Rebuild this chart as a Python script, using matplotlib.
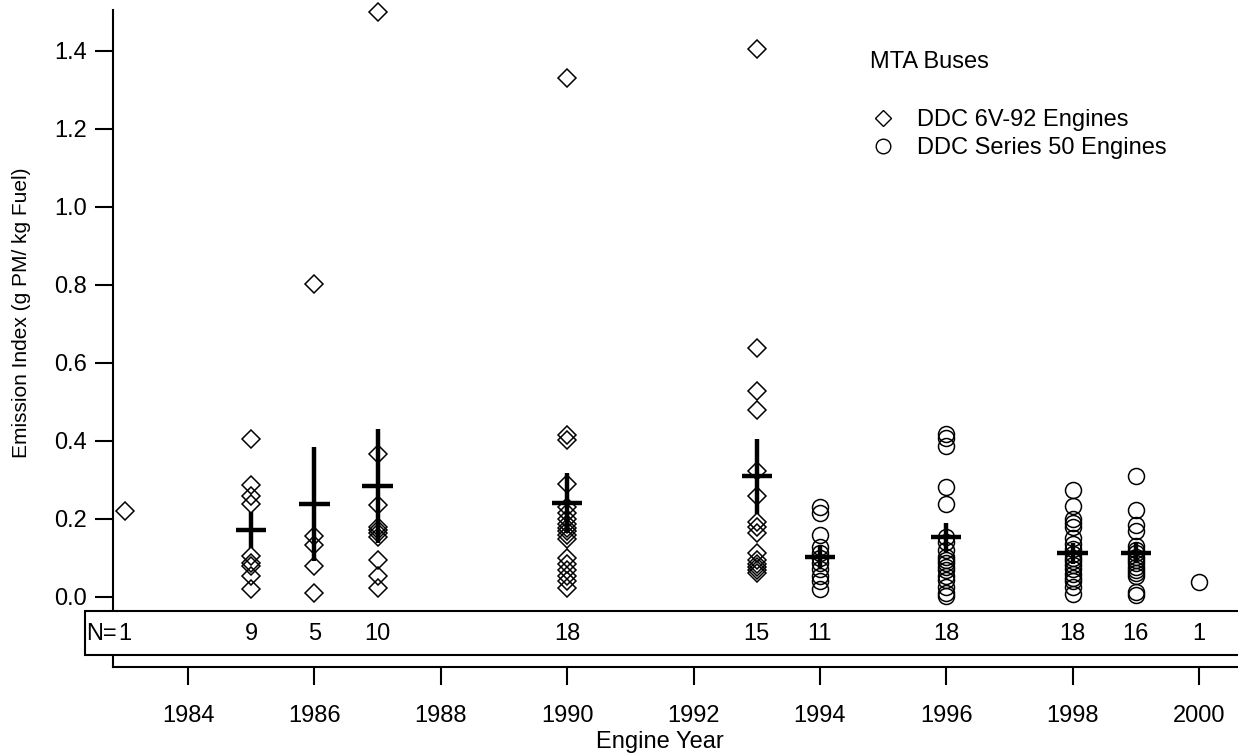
"""
MTA buses: PM emission index vs engine year, with mean +/- SE crosses
"""

import numpy as np
import matplotlib.pyplot as plt
from matplotlib.patches import Rectangle
from matplotlib.lines import Line2D
from matplotlib import transforms

plt.rcParams['font.family'] = ['Liberation Sans', 'DejaVu Sans']
plt.rcParams['font.size'] = 17

# DDC 6V-92 engines (g PM / kg fuel), one list per engine year
years_6v92 = [1983, 1985, 1986, 1987, 1990, 1993]
pm_1983 = [0.221]
pm_1985 = [0.404, 0.288, 0.259, 0.238, 0.105, 0.086, 0.079, 0.054, 0.021]
pm_1986 = [0.803, 0.156, 0.133, 0.079, 0.011]
pm_1987 = [1.50, 0.366, 0.235, 0.180, 0.172, 0.163, 0.155, 0.095, 0.054, 0.022]
pm_1990 = [1.33, 0.415, 0.403, 0.290, 0.232, 0.215, 0.200, 0.188, 0.178,
           0.168, 0.160, 0.148, 0.100, 0.085, 0.070, 0.055, 0.040, 0.022]
pm_1993 = [1.405, 0.638, 0.528, 0.479, 0.323, 0.259, 0.193, 0.180, 0.163,
           0.112, 0.095, 0.085, 0.078, 0.069, 0.061]
pm_6v92 = [pm_1983, pm_1985, pm_1986, pm_1987, pm_1990, pm_1993]

# DDC Series 50 engines
years_s50 = [1994, 1996, 1998, 1999, 2000]
pm_1994 = [0.232, 0.215, 0.160, 0.128, 0.112, 0.100, 0.088, 0.072, 0.055,
           0.042, 0.020]
pm_1996 = [0.418, 0.407, 0.387, 0.283, 0.238, 0.155, 0.142, 0.120, 0.103,
           0.095, 0.086, 0.078, 0.069, 0.055, 0.044, 0.026, 0.009, 0.002]
pm_1998 = [0.274, 0.234, 0.200, 0.190, 0.180, 0.150, 0.135, 0.122, 0.110,
           0.100, 0.092, 0.082, 0.072, 0.060, 0.048, 0.040, 0.026, 0.008]
pm_1999 = [0.310, 0.223, 0.185, 0.168, 0.130, 0.121, 0.112, 0.103, 0.095,
           0.086, 0.078, 0.069, 0.061, 0.055, 0.014, 0.005]
pm_2000 = [0.038]
pm_s50 = [pm_1994, pm_1996, pm_1998, pm_1999, pm_2000]

# mean and standard error crosses
mean_years = [1985, 1986, 1987, 1990, 1993, 1994, 1996, 1998, 1999]
mean_vals = [0.172, 0.238, 0.284, 0.242, 0.310, 0.103, 0.153, 0.112, 0.114]
mean_err = [0.047, 0.147, 0.146, 0.077, 0.096, 0.028, 0.037, 0.027, 0.026]

fig = plt.figure(figsize=(12.38, 7.54), dpi=100)
ax = fig.add_axes([113 / 1238, 1 - 667 / 754, 1125 / 1238, 657 / 754])

for yr, vals in zip(years_6v92, pm_6v92):
    ax.plot(np.full(len(vals), yr), vals, 'D', ms=9.3, mfc='none', mec='k',
            mew=1.1, clip_on=False, zorder=4)
for yr, vals in zip(years_s50, pm_s50):
    ax.plot(np.full(len(vals), yr), vals, 'o', ms=11.5, mfc='none', mec='k',
            mew=1.1, clip_on=False, zorder=4)

ax.errorbar(mean_years, mean_vals, yerr=mean_err, xerr=0.24, fmt='none',
            ecolor='k', elinewidth=3.2, capsize=0, zorder=5)

ax.set_xlim(1982.813, 2000.617)
ax.set_ylim(-0.1795, 1.505)
ax.set_xticks(range(1984, 2001, 2))
ax.set_yticks(np.arange(0, 1.41, 0.2))
ax.yaxis.set_major_formatter(plt.FormatStrFormatter('%.1f'))
ax.tick_params(direction='out', length=13, width=1.5, labelsize=17)
ax.tick_params(axis='x', pad=14)
ax.tick_params(axis='y', pad=6)
for s in ['top', 'right']:
    ax.spines[s].set_visible(False)
for s in ['left', 'bottom']:
    ax.spines[s].set_linewidth(1.5)

# N box
box = Rectangle((-0.0249, 0.0178), 1.03, 0.0679, transform=ax.transAxes,
                facecolor='white', edgecolor='k', lw=1.5, clip_on=False,
                zorder=3)
ax.add_patch(box)
trans = transforms.blended_transform_factory(ax.transData, ax.transAxes)
ax.text(-0.0235, 0.0505, 'N=', transform=ax.transAxes, ha='left',
        va='center', zorder=6)
for yr, vals in list(zip(years_6v92, pm_6v92)) + list(zip(years_s50, pm_s50)):
    ax.text(yr, 0.0505, str(len(vals)), transform=trans, ha='center',
            va='center', zorder=6)

fig.text(660 / 1238, 1 - 742 / 754, 'Engine Year', ha='center', va='center')
fig.text(22 / 1238, 1 - 313 / 754, 'Emission Index (g PM/ kg Fuel)',
         rotation=90, ha='center', va='center', fontsize=15)

# legend
fig.text(870 / 1238, 1 - 62 / 754, 'MTA Buses', ha='left', va='center')
handles = [Line2D([], [], ls='none', marker='D', ms=8.5, mfc='none', mec='k',
                  mew=1.0),
           Line2D([], [], ls='none', marker='o', ms=10.5, mfc='none', mec='k',
                  mew=1.0)]
fig.legend(handles, ['DDC 6V-92 Engines', 'DDC Series 50 Engines'],
           loc='upper left', bbox_to_anchor=(872 / 1238, 1 - 109 / 754),
           frameon=False, borderpad=0, borderaxespad=0, handlelength=0.9,
           handletextpad=1.0, labelspacing=0.25, fontsize=17)

fig.savefig('out.png', dpi=100)
